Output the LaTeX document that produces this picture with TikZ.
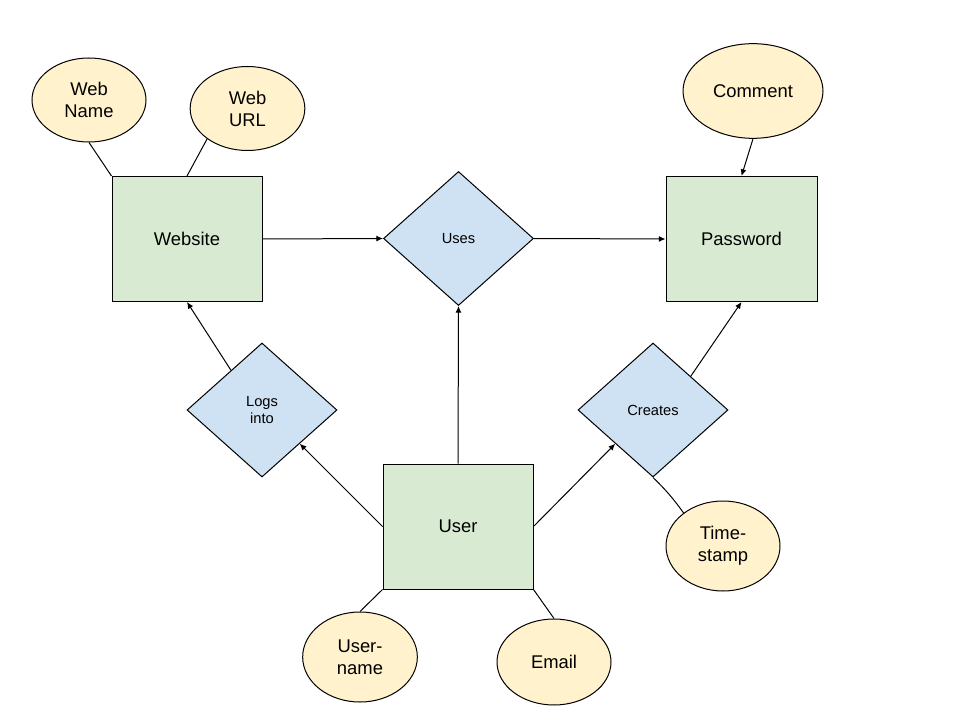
\documentclass[tikz,border=0pt]{standalone}
\usepackage{fontspec}
\setmainfont{Liberation Sans}
\usetikzlibrary{shapes.geometric,arrows.meta}
\definecolor{entfill}{HTML}{D9EAD3}
\definecolor{relfill}{HTML}{CFE2F3}
\definecolor{attfill}{HTML}{FFF2CC}
\begin{document}
\begin{tikzpicture}[x=0.75pt,y=-0.75pt,
 entity/.style={draw,line width=0.75pt,fill=entfill,minimum width=112.5pt,minimum height=93.75pt,inner sep=0pt,font=\fontsize{13.8}{16.5}\selectfont},
 rel/.style={draw,line width=0.75pt,diamond,fill=relfill,minimum width=112.5pt,minimum height=100.5pt,inner sep=0pt,align=center,font=\fontsize{11}{13}\selectfont},
 attr/.style={draw,line width=0.75pt,ellipse,fill=attfill,inner sep=0pt,align=center,font=\fontsize{13.8}{16.5}\selectfont},
 link/.style={line width=0.75pt},
 arr/.style={link,-{Latex[length=5pt,width=4.5pt]}}]
\fill[white] (0,0) rectangle (960,720);
\useasboundingbox (0,0) rectangle (960,720);

% entities
\node[entity] (website) at (187,239) {Website};
\node[entity,minimum width=113.25pt] (password) at (741.5,239) {Password};
\node[entity] (user) at (458,526.5) {User};

% relationships
\node[rel] (uses) at (458.5,238.5) {Uses};
\node[rel] (logs) at (262,410) {Logs\\into};
\node[rel] (creates) at (653,410) {Creates};

% attributes
\node[attr,minimum width=85.5pt,minimum height=63pt] (webname) at (89,100) {Web\\Name};
\node[attr,minimum width=86pt,minimum height=63pt] (weburl) at (247.5,108.5) {Web\\URL};
\node[attr,minimum width=105pt,minimum height=71pt] (comment) at (753,91) {Comment};
\node[attr,minimum width=85.5pt,minimum height=67.5pt] (timestamp) at (723,546) {Time-\\stamp};
\node[attr,minimum width=86pt,minimum height=67.5pt] (username) at (360,657) {User-\\name};
\node[attr,minimum width=85.5pt,minimum height=64.5pt] (email) at (554,662) {Email};

% connectors
\draw[link] (webname.south) -- (website.north west);
\draw[link] (weburl.217) -- (website.north);
\draw[arr] (comment.south) -- (password.north);
\draw[arr] (website.east) -- (uses.west);
\draw[arr] (uses.east) -- (password.west);
\draw[arr] (user.north) -- (uses.south);
\draw[arr] (logs.128) -- (website.south);
\draw[arr] (user.west) -- (logs.south east);
\draw[arr] (user.east) -- (creates.south west);
\draw[arr] (creates.north east) -- (password.south);
\draw[link] (creates.south) to[bend left=5] (timestamp.140);
\draw[link] (username.north) -- (user.south west);
\draw[link] (email.north) -- (user.south east);
\end{tikzpicture}
\end{document}
